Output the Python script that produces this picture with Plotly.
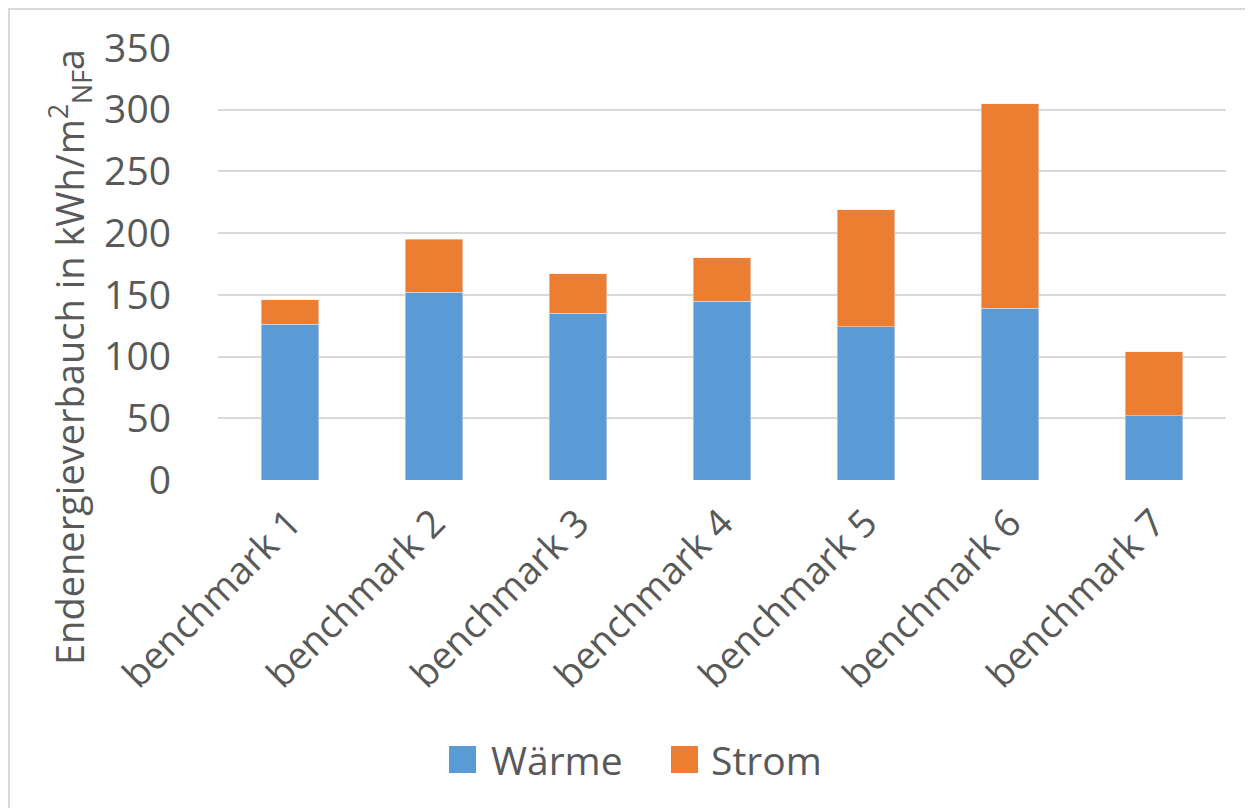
import plotly.graph_objects as go

# ---- data ----
categories = ["benchmark 1", "benchmark 2", "benchmark 3", "benchmark 4",
              "benchmark 5", "benchmark 6", "benchmark 7"]
waerme = [126, 152, 135, 145, 124, 139, 52]
strom = [20, 43, 32, 35, 95, 166, 52]
series_names = ["Wärme", "Strom"]
y_ticks = [0, 50, 100, 150, 200, 250, 300, 350]
y_title = "Endenergieverbauch in kWh/m<sup>2</sup><sub>NF</sub>a"

# ---- style ----
BLUE = "#5b9bd5"
ORANGE = "#ed7d31"
TXT = "#595959"
GRID = "#d9d9d9"
FONT = "Open Sans"

# page body has an 8px margin, so figure coordinates = screen - 8
OFF = 8
W, H = 1245, 800
L, R, T, B = 218 - OFF, 27, 48 - OFF, 328
PW, PH = W - L - R, H - T - B


def px_x(p):
    """screen x pixel -> paper fraction"""
    return (p - OFF - L) / PW


def px_y(p):
    """screen y pixel -> paper fraction"""
    return (T + PH - (p - OFF)) / PH


fig = go.Figure()
fig.add_trace(go.Bar(x=categories, y=waerme, name=series_names[0],
                     marker=dict(color=BLUE), showlegend=False))
fig.add_trace(go.Bar(x=categories, y=strom, name=series_names[1],
                     marker=dict(color=ORANGE), showlegend=False))

shapes = [
    # outer chart border
    dict(type="rect", xref="paper", yref="paper",
         x0=px_x(9), x1=px_x(1300), y0=px_y(9), y1=px_y(900),
         line=dict(color="#d9d9d9", width=2), fillcolor="rgba(0,0,0,0)",
         layer="below"),
]
annotations = [
    dict(text=y_title, xref="paper", yref="paper",
         x=px_x(70), y=px_y(357), xanchor="center", yanchor="middle",
         textangle=-90, showarrow=False,
         font=dict(family=FONT, size=38, color=TXT)),
]

# manual legend (large swatches as in the reference)
legend_items = [(series_names[0], BLUE, 449, 489), (series_names[1], ORANGE, 671, 709)]
for name, col, sx, tx in legend_items:
    shapes.append(dict(type="rect", xref="paper", yref="paper",
                       x0=px_x(sx), x1=px_x(sx + 27),
                       y0=px_y(746), y1=px_y(773),
                       fillcolor=col, line=dict(width=0)))
    annotations.append(dict(text=name, xref="paper", yref="paper",
                            x=px_x(tx), y=px_y(759), xanchor="left",
                            yanchor="middle", showarrow=False,
                            font=dict(family=FONT, size=39, color=TXT)))

fig.update_layout(
    width=W, height=H,
    margin=dict(l=L, r=R, t=T, b=B, pad=0),
    barmode="stack",
    bargap=0.6,
    paper_bgcolor="white",
    plot_bgcolor="white",
    font=dict(family=FONT, color=TXT),
    shapes=shapes,
    annotations=annotations,
    showlegend=False,
    xaxis=dict(
        tickangle=-45,
        tickfont=dict(family=FONT, size=38, color=TXT),
        showgrid=False, showline=False, zeroline=False,
        ticks="", ticklabelstandoff=12,
    ),
    yaxis=dict(
        range=[0, 350],
        tickvals=y_ticks,
        tickfont=dict(family=FONT, size=39, color=TXT),
        showgrid=True, gridcolor=GRID, gridwidth=2,
        zeroline=False, showline=False,
        ticks="", ticklabelstandoff=46,
    ),
)

fig.write_html("out.html")
